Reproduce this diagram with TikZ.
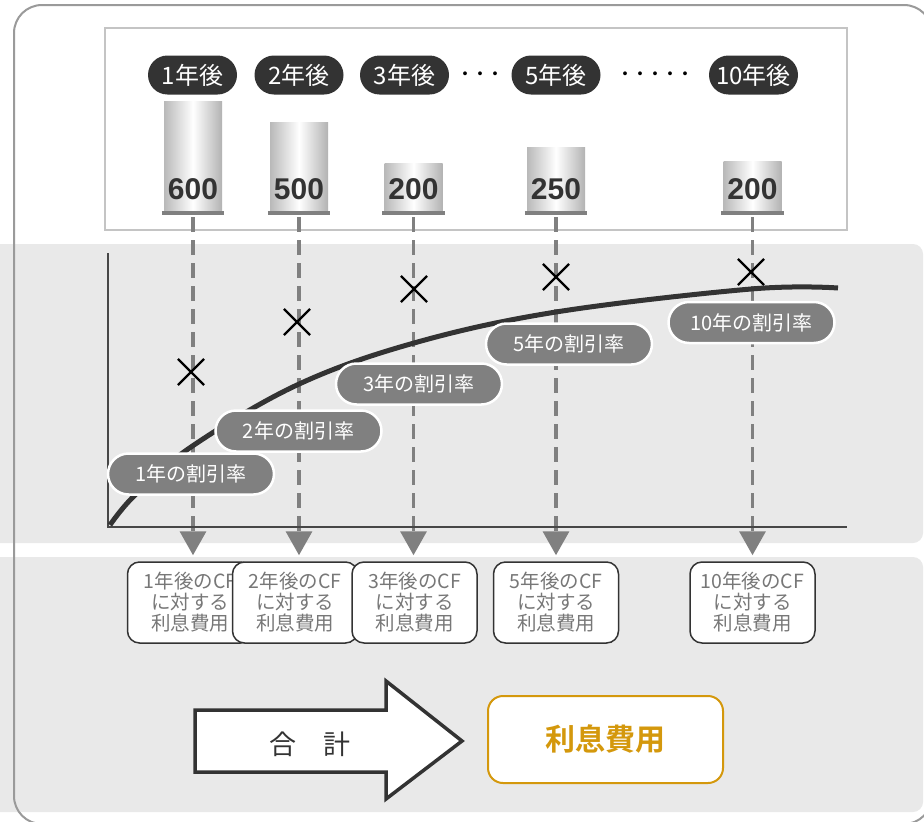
\documentclass[tikz,border=0pt]{standalone}
\usepackage{fontspec}
\newfontfamily\jp{Noto Sans CJK JP}[BoldFont={Noto Sans CJK JP Bold}]
\newfontfamily\numfont{Liberation Sans}
\usetikzlibrary{arrows.meta,shapes.misc}
\definecolor{band}{HTML}{E9E9E9}
\definecolor{framec}{HTML}{9A9A9A}
\definecolor{boxline}{HTML}{C4C4C4}
\definecolor{dark}{HTML}{333333}
\definecolor{midgray}{HTML}{808080}
\definecolor{txtgray}{HTML}{777777}
\definecolor{gold}{HTML}{D4980C}
\begin{document}
\begin{tikzpicture}[x=1pt,y=-1pt,
  yearpill/.style={rounded rectangle, fill=dark, text=white, minimum width=89pt, minimum height=39pt, inner sep=0pt, font=\jp\fontsize{24pt}{26pt}\selectfont},
  bar/.style={rectangle, anchor=south, minimum width=58pt, inner sep=0pt, left color=gray!55, right color=gray!60, middle color=white},
  barbase/.style={midgray, line width=3.5pt},
  num/.style={font=\numfont\bfseries\fontsize{30pt}{31pt}\selectfont, text=dark, inner sep=0pt},
  dots/.style={font=\jp\bfseries\fontsize{15pt}{16pt}\selectfont, text=black, inner sep=0pt},
  dashline/.style={midgray, line width=3.5pt, dash pattern=on 15pt off 8pt, shorten <=4pt, shorten >=6pt, -{Triangle[width=26pt,length=24pt]}},
  axisline/.style={draw=dark!90, line width=2pt},
  xm/.style={cross out, draw=black, line width=2.2pt, minimum size=24pt, inner sep=0pt},
  ratepill/.style={rounded rectangle, fill=midgray, draw=white, line width=2.5pt, text=white, minimum width=166pt, minimum height=41pt, inner sep=0pt, font=\jp\fontsize{20pt}{22pt}\selectfont},
  cfbox/.style={rectangle, rounded corners=12pt, draw=dark, line width=1.5pt, fill=white, text=txtgray, minimum width=125pt, minimum height=81pt, inner sep=0pt, align=center, font=\jp\fontsize{19.5pt}{21pt}\selectfont},
  resbox/.style={rectangle, rounded corners=15pt, draw=gold, line width=2pt, fill=white, text=gold, minimum width=235pt, minimum height=87pt, font=\jp\bfseries\fontsize{30pt}{32pt}\selectfont}
]
\useasboundingbox (0,0) rectangle (924,822);
\fill[white] (0,0) rectangle (924,822);
% bands
\fill[band, rounded corners=10pt] (-20,244) rectangle (923,543);
\fill[band, rounded corners=10pt] (-20,557) rectangle (923,812);
% outer frame
\draw[framec, line width=2pt, rounded corners=28pt] (14,5) rectangle (932,824);
% top box
\draw[boxline, line width=2pt, fill=white] (105,28) rectangle (847,230);
% year pills
\node[yearpill] (y1) at (192.5,75) {1年後};
\node[yearpill] (y2) at (299,75) {2年後};
\node[yearpill] (y3) at (404.5,75) {3年後};
\node[yearpill] (y5) at (556,75) {5年後};
\node[yearpill] (y10) at (753.5,75) {10年後};
\node[dots] (d1) at (480,76) {・・・};
\node[dots] (d2) at (655,76) {・・・・・};
% bars
\node[bar, minimum height=111pt] (b1) at (193,213) {};
\node[bar, minimum height=90pt] (b2) at (299,213) {};
\node[bar, minimum height=49pt] (b3) at (413.5,213) {};
\node[bar, minimum height=65pt] (b5) at (556,213) {};
\node[bar, minimum height=51pt] (b10) at (752.5,213) {};
\foreach \b in {b1,b2,b3,b5,b10}{
  \draw[barbase] ([xshift=-2pt]\b.south west) -- ([xshift=2pt]\b.south east);
}
\node[num] (n1) at (193,189) {600};
\node[num] (n2) at (299,189) {500};
\node[num] (n3) at (413.5,189) {200};
\node[num] (n5) at (556,189) {250};
\node[num] (n10) at (752.5,189) {200};
% CF boxes
\node[cfbox] (cf1) at (190,602.5) {1年後のCF\\に対する\\利息費用};
\node[cfbox] (cf2) at (295,602.5) {2年後のCF\\に対する\\利息費用};
\node[cfbox] (cf3) at (414.5,602.5) {3年後のCF\\に対する\\利息費用};
\node[cfbox] (cf5) at (556,602.5) {5年後のCF\\に対する\\利息費用};
\node[cfbox] (cf10) at (752.5,602.5) {10年後のCF\\に対する\\利息費用};
% dashed connectors
\draw[dashline] (b1.south) -- (b1.south |- cf1.north);
\draw[dashline] (b2.south) -- (b2.south |- cf2.north);
\draw[dashline] (b3.south) -- (b3.south |- cf3.north);
\draw[dashline] (b5.south) -- (b5.south |- cf5.north);
\draw[dashline] (b10.south) -- (b10.south |- cf10.north);
% axes
\coordinate (o) at (108,527);
\coordinate (ytop) at (108,253);
\coordinate (xend) at (847,527);
\draw[axisline] (ytop) -- (o) -- (xend);
% curve
\draw[dark, line width=5pt] plot[smooth, tension=0.6] coordinates {(110,525) (135,495) (191,447) (297,385) (414,343) (556,312) (751,289) (838,288)};
% x marks
\node[xm] (x1) at (191,372) {};
\node[xm] (x2) at (297,322) {};
\node[xm] (x3) at (414,289) {};
\node[xm] (x5) at (556,277) {};
\node[xm] (x10) at (751,272) {};
% rate pills
\node[ratepill] (r1) at (191,474) {1年の割引率};
\node[ratepill] (r2) at (298.5,431) {2年の割引率};
\node[ratepill] (r3) at (419,384) {3年の割引率};
\node[ratepill] (r5) at (569,344) {5年の割引率};
\node[ratepill] (r10) at (751.5,322.5) {10年の割引率};
% total arrow
\draw[dark, line width=3.5pt, fill=white, line join=miter] (195,710) -- (386,710) -- (386,681) -- (462,741) -- (386,799) -- (386,772) -- (195,772) -- cycle;
\node[font=\jp\fontsize{27pt}{29pt}\selectfont, text=dark] (sum) at (310,744) {合　計};
% result
\node[resbox] (res) at (605.5,739.5) {利息費用};
\end{tikzpicture}
\end{document}
